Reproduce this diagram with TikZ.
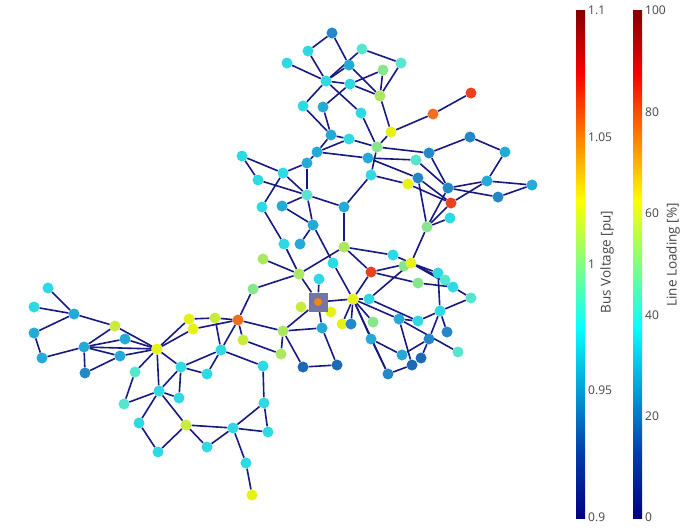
\documentclass[tikz,border=0pt]{standalone}
\usepackage{fontspec}
\setmainfont{Open Sans}
\usetikzlibrary{backgrounds}
\definecolor{tb}{RGB}{35,135,200}
\definecolor{bl}{RGB}{30,105,180}
\definecolor{te}{RGB}{35,170,215}
\definecolor{cy}{RGB}{45,218,228}
\definecolor{cl}{RGB}{85,230,205}
\definecolor{gr}{RGB}{135,230,140}
\definecolor{lg}{RGB}{170,232,95}
\definecolor{yg}{RGB}{200,236,60}
\definecolor{ye}{RGB}{230,242,20}
\definecolor{orc}{RGB}{240,110,30}
\definecolor{rd}{RGB}{235,65,30}
\definecolor{edgec}{RGB}{22,25,128}
\definecolor{txt}{RGB}{68,68,68}
\pgfdeclareverticalshading{jetbar}{100bp}{rgb(0bp)=(0,0,0.514); rgb(25bp)=(0,0,0.514); rgb(31.25bp)=(0,0.235,0.667); rgb(43.75bp)=(0.02,1,1); rgb(56.25bp)=(1,1,0); rgb(68.75bp)=(0.98,0,0); rgb(75bp)=(0.502,0,0); rgb(100bp)=(0.502,0,0)}
\tikzset{
  bus/.style={circle, inner sep=0pt, minimum size=11pt, fill=#1},
  edge/.style={draw=edgec, line width=1.6pt},
  tick/.style={text=txt, font=\fontsize{12}{14}\selectfont, anchor=west, inner sep=0pt},
  ttl/.style={text=txt, font=\fontsize{13.5}{15}\selectfont, rotate=90, inner sep=0pt}
}
\begin{document}
\begin{tikzpicture}[x=1pt,y=-1pt]
\useasboundingbox (0,0) rectangle (680,528);
% buses
\node[bus=tb] (n1) at (332,33) {};
\node[bus=cy] (n2) at (308,51) {};
\node[bus=cl] (n3) at (362,49) {};
\node[bus=cy] (n4) at (287,63) {};
\node[bus=te] (n5) at (349,65) {};
\node[bus=cl] (n6) at (401,63) {};
\node[bus=gr] (n7) at (383,70) {};
\node[bus=cy] (n8) at (326,81) {};
\node[bus=cy] (n9) at (350,84) {};
\node[bus=lg] (n10) at (380,96) {};
\node[bus=cy] (n11) at (303,106) {};
\node[bus=te] (n12) at (323,107) {};
\node[bus=cy] (n13) at (361,113) {};
\node[bus=ye] (n14) at (391,132) {};
\node[bus=orc] (n15) at (433,114) {};
\node[bus=rd] (n16) at (471,93) {};
\node[bus=te] (n17) at (331,135) {};
\node[bus=cy] (n18) at (349,139) {};
\node[bus=gr] (n19) at (377,147) {};
\node[bus=te] (n20) at (317,152) {};
\node[bus=te] (n21) at (368,158) {};
\node[bus=cy] (n22) at (371,175) {};
\node[bus=cy] (n23) at (242,156) {};
\node[bus=cy] (n24) at (258,180) {};
\node[bus=cy] (n25) at (283,173) {};
\node[bus=te] (n26) at (307,163) {};
\node[bus=cl] (n27) at (307,195) {};
\node[bus=cy] (n28) at (262,207) {};
\node[bus=te] (n29) at (282,206) {};
\node[bus=te] (n30) at (344,207) {};
\node[bus=te] (n31) at (313,225) {};
\node[bus=cy] (n32) at (284,244) {};
\node[bus=te] (n33) at (300,244) {};
\node[bus=lg] (n34) at (344,247) {};
\node[bus=lg] (n35) at (263,259) {};
\node[bus=tb] (n36) at (470,137) {};
\node[bus=te] (n37) at (505,152) {};
\node[bus=tb] (n38) at (429,153) {};
\node[bus=cl] (n39) at (416,160) {};
\node[bus=tb] (n40) at (418,178) {};
\node[bus=ye] (n41) at (408,184) {};
\node[bus=tb] (n42) at (448,188) {};
\node[bus=te] (n43) at (487,181) {};
\node[bus=te] (n44) at (532,185) {};
\node[bus=tb] (n45) at (498,197) {};
\node[bus=rd] (n46) at (451,203) {};
\node[bus=cy] (n47) at (450,218) {};
\node[bus=gr] (n48) at (427,227) {};
\node[bus=cy] (n49) at (393,255) {};
\node[bus=gr] (n51) at (404,266) {};
\node[bus=ye] (n50) at (411,263) {};
\node[bus=cy] (n52) at (333,263) {};
\node[bus=lg] (n53) at (299,274) {};
\node[bus=cy] (n54) at (319,279) {};
\node[bus=rd] (n55) at (371,272) {};
\node[bus=gr] (n56) at (253,289) {};
\node[bus=yg] (n57) at (301,307) {};
\node[bus=ye] (n58) at (331,312) {};
\node[bus=ye] (n59) at (353,299) {};
\node[bus=orc] (n60) at (238,320) {};
\node[bus=ye] (n61) at (342,324) {};
\node[bus=tb] (n62) at (351,324) {};
\node[bus=te] (n63) at (322,328) {};
\node[bus=lg] (n64) at (283,331) {};
\node[bus=yg] (n65) at (243,340) {};
\node[bus=lg] (n66) at (281,354) {};
\node[bus=cy] (n67) at (263,366) {};
\node[bus=bl] (n68) at (303,367) {};
\node[bus=bl] (n69) at (337,365) {};
\node[bus=cy] (n70) at (438,273) {};
\node[bus=cl] (n71) at (445,280) {};
\node[bus=cy] (n72) at (453,287) {};
\node[bus=cl] (n73) at (471,298) {};
\node[bus=gr] (n74) at (418,283) {};
\node[bus=cy] (n75) at (369,299) {};
\node[bus=cy] (n76) at (440,311) {};
\node[bus=te] (n77) at (399,319) {};
\node[bus=cy] (n78) at (418,321) {};
\node[bus=gr] (n79) at (373,322) {};
\node[bus=tb] (n80) at (447,332) {};
\node[bus=te] (n81) at (371,339) {};
\node[bus=tb] (n82) at (429,339) {};
\node[bus=cl] (n83) at (458,352) {};
\node[bus=te] (n84) at (402,355) {};
\node[bus=bl] (n85) at (421,358) {};
\node[bus=bl] (n86) at (412,365) {};
\node[bus=tb] (n87) at (388,374) {};
\node[bus=cy] (n88) at (48,288) {};
\node[bus=cy] (n89) at (34,307) {};
\node[bus=te] (n90) at (74,314) {};
\node[bus=yg] (n91) at (115,326) {};
\node[bus=te] (n92) at (34,333) {};
\node[bus=te] (n93) at (125,339) {};
\node[bus=te] (n94) at (84,347) {};
\node[bus=ye] (n95) at (157,349) {};
\node[bus=te] (n96) at (120,356) {};
\node[bus=te] (n97) at (42,358) {};
\node[bus=tb] (n98) at (85,373) {};
\node[bus=cl] (n99) at (135,372) {};
\node[bus=cy] (n100) at (181,367) {};
\node[bus=cy] (n101) at (207,374) {};
\node[bus=cy] (n102) at (159,391) {};
\node[bus=cy] (n103) at (179,398) {};
\node[bus=cl] (n104) at (124,404) {};
\node[bus=ye] (n105) at (189,319) {};
\node[bus=ye] (n106) at (193,329) {};
\node[bus=yg] (n107) at (215,318) {};
\node[bus=cy] (n108) at (221,350) {};
\node[bus=cy] (n109) at (139,423) {};
\node[bus=yg] (n110) at (186,425) {};
\node[bus=cy] (n111) at (158,452) {};
\node[bus=cy] (n112) at (207,447) {};
\node[bus=cy] (n113) at (233,428) {};
\node[bus=cy] (n114) at (268,432) {};
\node[bus=cy] (n115) at (264,403) {};
\node[bus=cy] (n116) at (246,463) {};
\node[bus=ye] (n117) at (252,495) {};
% external grid
\node[fill=gray!80!blue!90, minimum size=19pt, inner sep=0pt] (sq) at (318,302) {};
\node[circle, fill=orc!85!yellow, minimum size=8pt, inner sep=0pt] (sqb) at (318,302) {};
% lines
\begin{pgfonlayer}{background}
\fill[white] (0,0) rectangle (680,528);
\foreach \a/\b in {n1/n2, n1/n5, n2/n8, n4/n8, n3/n6, n3/n8, n5/n8, n5/n10, n8/n9, n9/n7, n9/n10, n6/n10, n7/n10, n8/n11, n8/n13, n12/n9, n12/n17, n11/n17, n13/n19, n10/n14, n14/n15, n15/n16, n17/n18, n18/n19, n14/n19, n20/n17, n20/n18, n20/n21, n20/n26, n19/n22, n19/n38, n21/n39, n21/n40, n22/n41, n41/n46, n40/n46, n40/n48, n38/n36, n36/n37, n37/n43, n38/n42, n39/n42, n43/n42, n43/n44, n42/n45, n45/n44, n43/n46, n42/n48, n46/n48, n47/n48, n48/n50, n49/n50, n34/n49}
  \draw[edge] (\a) -- (\b);
\foreach \a/\b in {n23/n25, n23/n24, n24/n27, n25/n27, n25/n26, n25/n28, n26/n27, n27/n30, n27/n29, n27/n31, n29/n31, n28/n32, n31/n33, n31/n52, n22/n30, n30/n34, n32/n53, n35/n53, n53/n34, n53/n56, n53/sq, n52/n59, n54/sq, n34/n55, n55/n59, sq/n59, sq/n58, sq/n63, sq/n64, n60/n56, n60/n64, n60/n65, n64/n63, n64/n66, n64/n68, n63/n69, n68/n69, n65/n66, n108/n67, n67/n115, n60/n107, n60/n106, n60/n108, n107/n108, n107/n105, n105/n95, n106/n95}
  \draw[edge] (\a) -- (\b);
\foreach \a/\b in {n59/n75, n59/n77, n59/n81, n59/n79, n59/n62, n59/n87, n59/n61, n75/n50, n75/n78, n77/n78, n78/n76, n76/n70, n76/n73, n72/n73, n74/n72, n55/n50, n55/n74, n50/n70, n50/n71, n50/n72, n76/n82, n76/n80, n77/n83, n77/n86, n82/n84, n82/n85, n81/n87, n81/n84, n87/n86}
  \draw[edge] (\a) -- (\b);
\foreach \a/\b in {n88/n90, n89/n90, n90/n91, n90/n92, n92/n97, n97/n94, n94/n91, n94/n93, n94/n95, n94/n96, n94/n98, n98/n96, n96/n95, n91/n95, n93/n95, n95/n99, n95/n102, n95/n100, n99/n104, n102/n104, n108/n100, n100/n101, n108/n101, n100/n102, n100/n103, n102/n103, n102/n109, n102/n110, n109/n111, n111/n110, n110/n113, n110/n112, n112/n113, n113/n115, n113/n114, n115/n114, n113/n116, n116/n117}
  \draw[edge] (\a) -- (\b);
\end{pgfonlayer}
% colour bars
\shade[shading=jetbar] (576,10) rectangle (585,518);
\shade[shading=jetbar] (633,10) rectangle (642,518);
\node[tick] (v1) at (588,10) {1.1};
\node[tick] (v2) at (588,137) {1.05};
\node[tick] (v3) at (588,264) {1};
\node[tick] (v4) at (588,390) {0.95};
\node[tick] (v5) at (588,517) {0.9};
\node[tick] (l1) at (645,10) {100};
\node[tick] (l2) at (645,112) {80};
\node[tick] (l3) at (645,213) {60};
\node[tick] (l4) at (645,315) {40};
\node[tick] (l5) at (645,416) {20};
\node[tick] (l6) at (645,517) {0};
\node[ttl] (t1) at (607,262) {Bus Voltage [pu]};
\node[ttl] (t2) at (673,255) {Line Loading [\%]};
\end{tikzpicture}
\end{document}
